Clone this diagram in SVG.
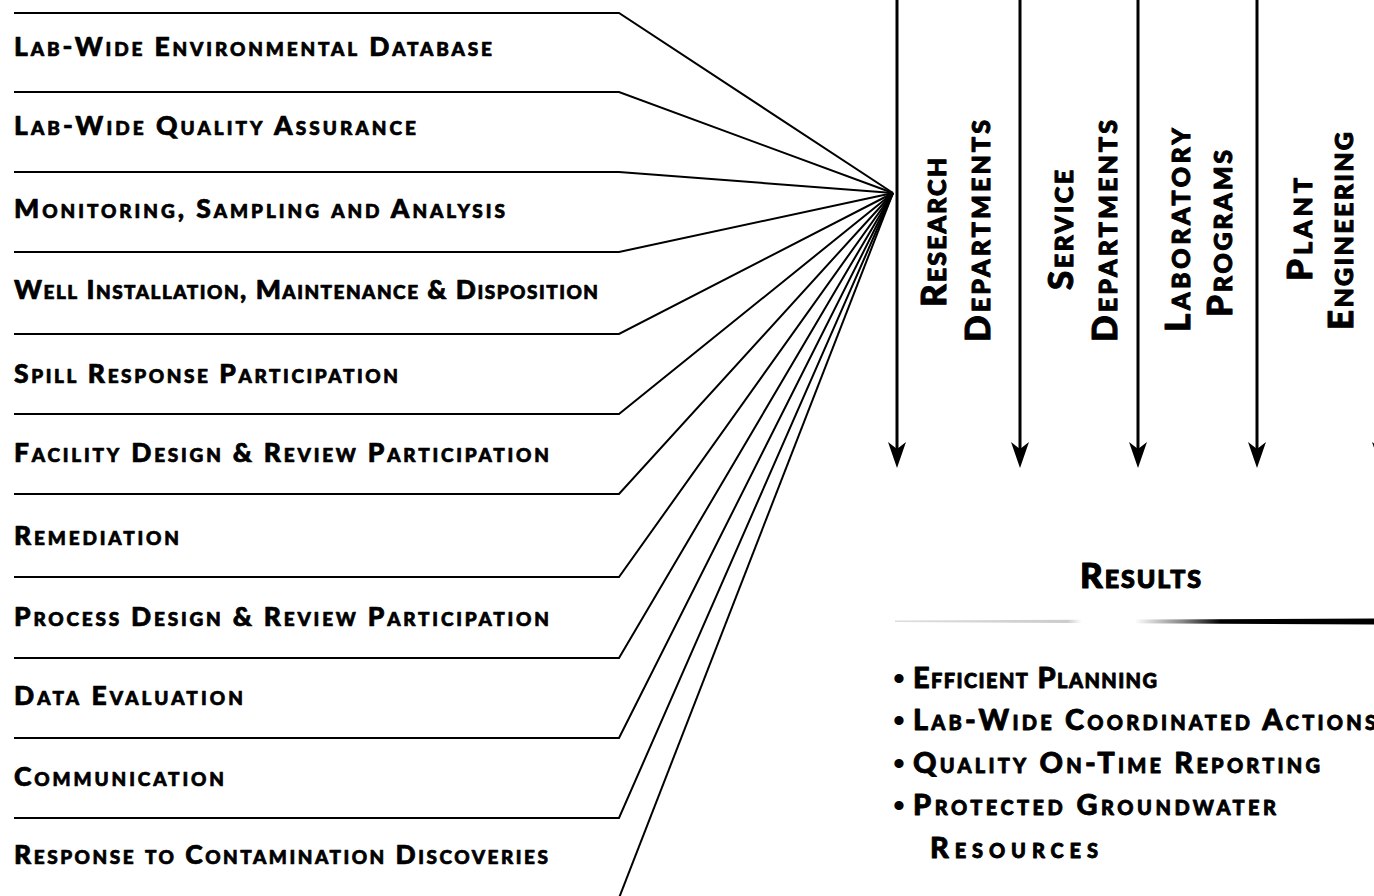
<svg xmlns="http://www.w3.org/2000/svg" xmlns:xlink="http://www.w3.org/1999/xlink" width="1374" height="896" viewBox="0 0 1374 896">
<style>
  .lbl { font-family: Lato, "Open Sans", "Liberation Sans", sans-serif; font-weight: 900; font-variant: small-caps; fill: #000; stroke: #000; stroke-width: 0.7px; stroke-linejoin: round; }
  .left { font-size: 26.5px; }
  .col { font-size: 35px; stroke-width: 1px; }
  .res { font-size: 35px; stroke-width: 1.1px; }
  .bul { font-size: 29px; stroke-width: 0.8px; }
  .dot { font-family: "Liberation Sans", sans-serif; font-size: 34px; fill: #000; }
  .conn { fill: none; stroke: #000; stroke-width: 2; stroke-linejoin: miter; }
  .shaft { fill: none; stroke: #000; stroke-width: 3; }
</style>
<defs>
  <path id="ah" d="M0,0 L-9,-26 L0,-19 L9,-26 Z" fill="#000"/>
  <linearGradient id="barg" x1="895" y1="0" x2="1374" y2="0" gradientUnits="userSpaceOnUse">
    <stop offset="0" stop-color="#dddddd"/>
    <stop offset="0.36" stop-color="#cccccc"/>
    <stop offset="0.39" stop-color="#ffffff"/>
    <stop offset="0.5" stop-color="#ffffff"/>
    <stop offset="0.6" stop-color="#888888"/>
    <stop offset="0.68" stop-color="#000000"/>
    <stop offset="1" stop-color="#000000"/>
  </linearGradient>
</defs>
<rect width="1374" height="896" fill="#fff"/>

<g id="connectors">
  <polyline class="conn" points="14,13 619,13 893,193"/>
  <polyline class="conn" points="14,92 619,92 893,193"/>
  <polyline class="conn" points="14,172 619,172 893,193"/>
  <polyline class="conn" points="14,252 619,252 893,193"/>
  <polyline class="conn" points="14,334 619,334 893,193"/>
  <polyline class="conn" points="14,414 619,414 893,193"/>
  <polyline class="conn" points="14,494 619,494 893,193"/>
  <polyline class="conn" points="14,577 619,577 893,193"/>
  <polyline class="conn" points="14,658 619,658 893,193"/>
  <polyline class="conn" points="14,738 619,738 893,193"/>
  <polyline class="conn" points="14,818 619,818 893,193"/>
  <polyline class="conn" points="619,898 893,193"/>
  <line class="shaft" x1="897" y1="0" x2="897" y2="452"/>
  <line class="shaft" x1="1020" y1="0" x2="1020" y2="452"/>
  <line class="shaft" x1="1138" y1="0" x2="1138" y2="452"/>
  <line class="shaft" x1="1257" y1="0" x2="1257" y2="452"/>
  <line class="shaft" x1="1381" y1="0" x2="1381" y2="452"/>
  <use xlink:href="#ah" x="897" y="468"/>
  <use xlink:href="#ah" x="1020" y="468"/>
  <use xlink:href="#ah" x="1138" y="468"/>
  <use xlink:href="#ah" x="1257" y="468"/>
  <use xlink:href="#ah" x="1381" y="468"/>
</g>

<g id="n-database"><text class="lbl left" x="14" y="56" textLength="478">Lab-Wide Environmental Database</text></g>
<g id="n-qa"><text class="lbl left" x="14" y="135" textLength="402">Lab-Wide Quality Assurance</text></g>
<g id="n-monitoring"><text class="lbl left" x="14" y="218" textLength="491">Monitoring, Sampling and Analysis</text></g>
<g id="n-well"><text class="lbl left" x="14" y="299" textLength="584">Well Installation, Maintenance &amp; Disposition</text></g>
<g id="n-spill"><text class="lbl left" x="14" y="383" textLength="384">Spill Response Participation</text></g>
<g id="n-facility"><text class="lbl left" x="14" y="462" textLength="535">Facility Design &amp; Review Participation</text></g>
<g id="n-remediation"><text class="lbl left" x="14" y="545" textLength="165">Remediation</text></g>
<g id="n-process"><text class="lbl left" x="14" y="626" textLength="535">Process Design &amp; Review Participation</text></g>
<g id="n-data"><text class="lbl left" x="14" y="705" textLength="229">Data Evaluation</text></g>
<g id="n-communication"><text class="lbl left" x="14" y="786" textLength="210">Communication</text></g>
<g id="n-response"><text class="lbl left" x="14" y="864" textLength="534">Response to Contamination Discoveries</text></g>

<g id="n-research">
  <text class="lbl col" transform="translate(946,307) rotate(-90)" textLength="149">Research</text>
  <text class="lbl col" transform="translate(990,342) rotate(-90)" textLength="222">Departments</text>
</g>
<g id="n-service">
  <text class="lbl col" transform="translate(1073,290) rotate(-90)" textLength="120">Service</text>
  <text class="lbl col" transform="translate(1117,342) rotate(-90)" textLength="222">Departments</text>
</g>
<g id="n-laboratory">
  <text class="lbl col" transform="translate(1190,332) rotate(-90)" textLength="204">Laboratory</text>
  <text class="lbl col" transform="translate(1232,317) rotate(-90)" textLength="167">Programs</text>
</g>
<g id="n-plant">
  <text class="lbl col" transform="translate(1312,281) rotate(-90)" textLength="103">Plant</text>
  <text class="lbl col" transform="translate(1353,330) rotate(-90)" textLength="198">Engineering</text>
</g>

<g id="n-results">
  <text class="lbl res" x="1080" y="588" textLength="121">Results</text>
  <path d="M895,620.5 L1374,618.5 L1374,624.5 L895,622 Z" fill="url(#barg)"/>
  <text class="dot" x="893" y="690">•</text>
  <text class="lbl bul" x="913" y="688" textLength="244">Efficient Planning</text>
  <text class="dot" x="893" y="732">•</text>
  <text class="lbl bul" x="913" y="730" textLength="463">Lab-Wide Coordinated Actions</text>
  <text class="dot" x="893" y="775">•</text>
  <text class="lbl bul" x="913" y="773" textLength="407">Quality On-Time Reporting</text>
  <text class="dot" x="893" y="817">•</text>
  <text class="lbl bul" x="913" y="815" textLength="363">Protected Groundwater</text>
  <text class="lbl bul" x="930" y="858" textLength="168">Resources</text>
</g>
</svg>
